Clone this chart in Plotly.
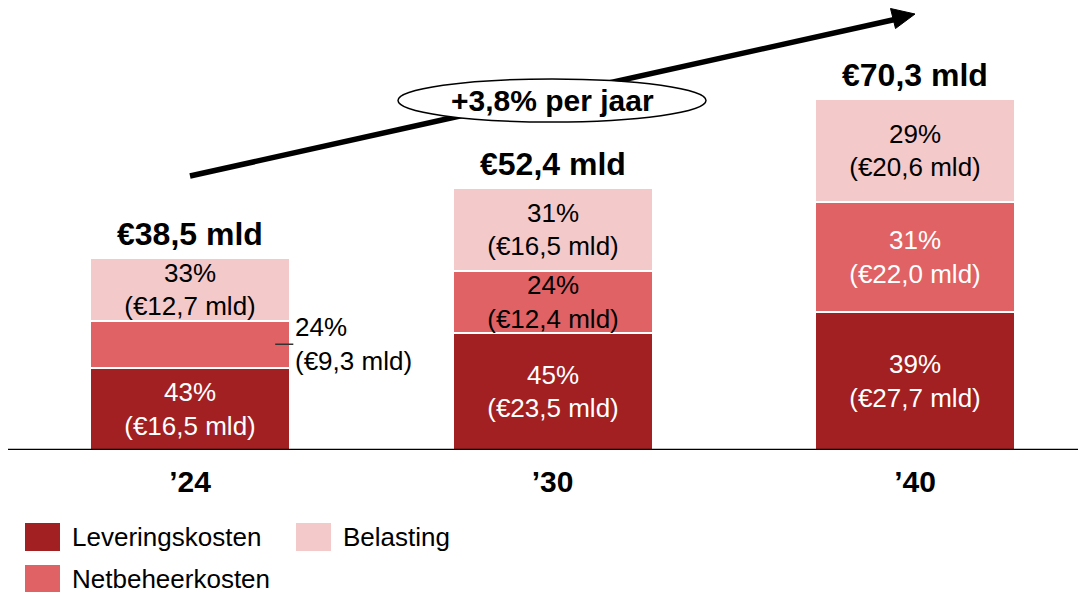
import plotly.graph_objects as go

# ---------------- data ----------------
categories = ["’24", "’30", "’40"]
series_names = ["Leveringskosten", "Netbeheerkosten", "Belasting"]
leveringskosten = [16.5, 23.5, 27.7]
netbeheerkosten = [9.3, 12.4, 22.0]
belasting = [12.7, 16.5, 20.6]
share_lev = [43, 45, 39]
share_net = [24, 24, 31]
share_bel = [33, 31, 29]
totals = [38.5, 52.4, 70.3]
growth_label = "+3,8% per jaar"

colors = ["#A21F22", "#E06265", "#F4C9CA"]
FONT = "Liberation Sans, Arial, sans-serif"
W, H = 1086, 592
OFF = 8           # page body margin offset (screen px)
BASE = 450 - OFF  # baseline in figure px
PLOT_H = BASE
CAT_W = 362.5     # px per category
X0 = -(190 - OFF) / CAT_W


def fmt(v):
    return f"{v:.1f}".replace(".", ",")


def label(share, val):
    return f"{share}%<br>(€{fmt(val)} mld)"


def px(xp, yp):
    """screen pixel position -> paper coordinates"""
    return (xp - OFF) / W, (PLOT_H - (yp - OFF)) / PLOT_H


fig = go.Figure()

series = [
    (leveringskosten, share_lev, ["white", "white", "white"], [True, True, True]),
    (netbeheerkosten, share_net, ["white", "black", "white"], [False, True, True]),
    (belasting, share_bel, ["black", "black", "black"], [True, True, True]),
]
for name, color, (vals, shares, tcol, show) in zip(series_names, colors, series):
    fig.add_trace(go.Bar(
        name=name,
        x=categories,
        y=vals,
        width=200 / CAT_W,
        marker=dict(color=color, line=dict(color="white", width=2)),
        text=[label(s, v) if sh else "" for s, v, sh in zip(shares, vals, show)],
        textposition="inside",
        insidetextanchor="middle",
        textfont=dict(family=FONT, size=26, color=tcol),
        hoverinfo="skip",
        showlegend=False,
    ))

annotations = []
# totals above bars
for i, t in enumerate(totals):
    annotations.append(dict(
        x=categories[i], y=t, xref="x", yref="y",
        text=f"<b>€{fmt(t)} mld</b>", showarrow=False,
        yanchor="bottom", yshift=4,
        font=dict(family=FONT, size=32, color="black"),
    ))

# outside label for the '24 Netbeheerkosten segment
mid_net0 = leveringskosten[0] + netbeheerkosten[0] / 2
annotations.append(dict(
    x=0.285, y=mid_net0, xref="x", yref="y",
    text=label(share_net[0], netbeheerkosten[0]), showarrow=False,
    xanchor="left", yanchor="middle", align="left",
    font=dict(family=FONT, size=26, color="black"),
))

shapes = []
# leader line
shapes.append(dict(type="line", xref="x", yref="y",
                   x0=0.235, x1=0.285, y0=mid_net0, y1=mid_net0,
                   line=dict(color="#333333", width=1.5), layer="above"))
# baseline axis
shapes.append(dict(type="line", xref="paper", yref="y",
                   x0=0, x1=1, y0=0, y1=0,
                   line=dict(color="black", width=2.5), layer="above"))

# growth arrow (line + head)
sx, sy = px(190, 176)
ex, ey = px(897, 19)
shapes.append(dict(type="line", xref="paper", yref="paper",
                   x0=sx, y0=sy, x1=ex, y1=ey,
                   line=dict(color="black", width=5.5), layer="above"))
head = [px(915, 14), px(895.5, 28.5), px(890.5, 8.5)]
path = "M {} {} L {} {} L {} {} Z".format(*[c for p in head for c in p])
shapes.append(dict(type="path", xref="paper", yref="paper", path=path,
                   fillcolor="black", line=dict(color="black", width=1), layer="above"))
# ellipse
e0x, e0y = px(398, 122)
e1x, e1y = px(706, 79)
shapes.append(dict(type="circle", xref="paper", yref="paper",
                   x0=e0x, y0=e0y, x1=e1x, y1=e1y,
                   fillcolor="white", line=dict(color="black", width=1.5), layer="above"))
cx, cy = px(552, 100.5)
annotations.append(dict(x=cx, y=cy, xref="paper", yref="paper",
                        text=f"<b>{growth_label}</b>", showarrow=False,
                        xanchor="center", yanchor="middle",
                        font=dict(family=FONT, size=30, color="black")))

# manual legend
legend_items = [
    (series_names[0], colors[0], 25, 523),
    (series_names[2], colors[2], 296, 523),
    (series_names[1], colors[1], 25, 565),
]
for name, col, lx, ly in legend_items:
    a = px(lx, ly + 28)
    b = px(lx + 35, ly)
    shapes.append(dict(type="rect", xref="paper", yref="paper",
                       x0=a[0], y0=a[1], x1=b[0], y1=b[1],
                       fillcolor=col, line=dict(width=0), layer="above"))
    tx, ty = px(lx + 46, ly + 14)
    annotations.append(dict(x=tx, y=ty, xref="paper", yref="paper",
                            text=name, showarrow=False, borderpad=0,
                            xanchor="left", yanchor="middle",
                            font=dict(family=FONT, size=26, color="black")))

fig.update_layout(
    width=W, height=H,
    barmode="stack",
    bargap=0,
    margin=dict(l=0, r=0, t=0, b=H - PLOT_H, pad=0),
    plot_bgcolor="white", paper_bgcolor="white",
    showlegend=False,
    shapes=shapes,
    annotations=annotations,
    uniformtext=dict(minsize=26, mode="show"),
    xaxis=dict(
        range=[X0, X0 + W / CAT_W], automargin=False,
        showgrid=False, zeroline=False, showline=False, ticks="",
        tickmode="array", tickvals=categories,
        ticktext=[f"<b>{c}</b>" for c in categories],
        tickfont=dict(family=FONT, size=30, color="black"),
        ticklabelstandoff=11, fixedrange=True,
    ),
    yaxis=dict(
        range=[0, PLOT_H / 5.0], automargin=False, visible=False,
        showgrid=False, zeroline=False, fixedrange=True,
    ),
)

fig.write_html("out.html")
